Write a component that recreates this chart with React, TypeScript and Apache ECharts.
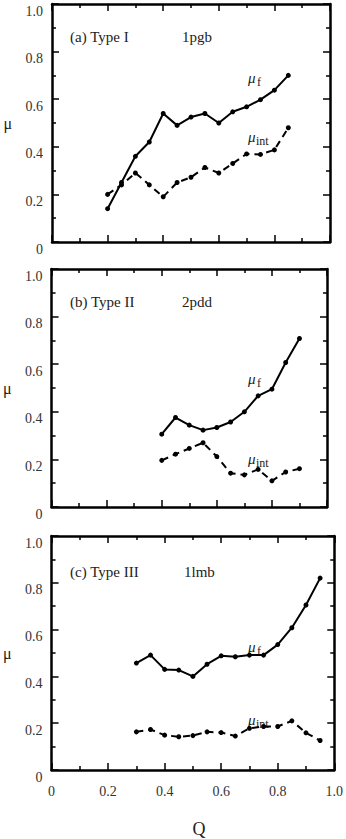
import React, { useEffect, useRef } from "react";
import * as echarts from "echarts";

// Panel (a) Type I, 1pgb
const qA = [0.2, 0.25, 0.3, 0.35, 0.4, 0.45, 0.5, 0.55, 0.6, 0.65, 0.7, 0.75, 0.8, 0.85];
const muFA = [0.14, 0.25, 0.36, 0.42, 0.54, 0.49, 0.525, 0.54, 0.5, 0.547, 0.568, 0.598, 0.638, 0.7];
const muIntA = [0.2, 0.24, 0.29, 0.24, 0.19, 0.25, 0.272, 0.313, 0.29, 0.33, 0.37, 0.368, 0.387, 0.48];

// Panel (b) Type II, 2pdd
const qB = [0.4, 0.45, 0.5, 0.55, 0.6, 0.65, 0.7, 0.75, 0.8, 0.85, 0.9];
const muFB = [0.306, 0.376, 0.344, 0.323, 0.334, 0.357, 0.4, 0.467, 0.495, 0.607, 0.708];
const muIntB = [0.196, 0.222, 0.246, 0.27, 0.212, 0.142, 0.135, 0.158, 0.11, 0.147, 0.161];

// Panel (c) Type III, 1lmb
const qC = [0.3, 0.35, 0.4, 0.45, 0.5, 0.55, 0.6, 0.65, 0.7, 0.75, 0.8, 0.85, 0.9, 0.95];
const muFC = [0.457, 0.491, 0.43, 0.427, 0.4, 0.452, 0.488, 0.484, 0.491, 0.491, 0.536, 0.608, 0.705, 0.82];
const muIntC = [0.163, 0.173, 0.149, 0.142, 0.147, 0.163, 0.16, 0.145, 0.178, 0.186, 0.186, 0.21, 0.159, 0.126];

const panelTitles = ["(a) Type I", "(b) Type II", "(c) Type III"];
const panelCodes = ["1pgb", "2pdd", "1lmb"];
const xTitle = "Q";
const yTitle = "μ";

const SERIF = "Liberation Serif";

const pair = (q: number[], v: number[]) => q.map((x, i) => [x, v[i]]);
const fmt = (v: number) => (v === 0 ? "0" : v.toFixed(1));

export default function App() {
  const ref = useRef<HTMLDivElement>(null);

  useEffect(() => {
    if (!ref.current) return;
    const chart = echarts.init(ref.current, undefined, { renderer: "svg" });

    const grids = [
      { left: 52, top: 4, width: 278, height: 238 },
      { left: 51, top: 269, width: 276, height: 238 },
      { left: 47, top: 536, width: 288, height: 246 },
    ];

    const tickStyle = { color: "#000", width: 1.5 };
    const lineAx = { show: true, onZero: false, lineStyle: { color: "#000", width: 2.5 } };

    const xAxes: any[] = [];
    const yAxes: any[] = [];
    grids.forEach((_, g) => {
      ["bottom", "top"].forEach((pos) => {
        const showLab = g === 2 && pos === "bottom";
        xAxes.push({
          type: "value",
          gridIndex: g,
          position: pos,
          min: 0,
          max: 1,
          interval: 0.2,
          axisLine: lineAx,
          axisTick: { show: true, inside: true, length: 7, lineStyle: tickStyle },
          minorTick: { show: true, splitNumber: 2, length: 4, lineStyle: tickStyle },
          splitLine: { show: false },
          axisLabel: {
            show: showLab,
            formatter: fmt,
            margin: 14,
            color: "#333",
            fontFamily: SERIF,
            fontSize: 14,
          },
          name: showLab ? xTitle : "",
          nameLocation: "middle",
          nameGap: 50,
          nameTextStyle: { fontFamily: SERIF, fontSize: 18, color: "#222", padding: [0, 0, 0, 12] },
        });
      });
      ["left", "right"].forEach((pos) => {
        const isLeft = pos === "left";
        yAxes.push({
          type: "value",
          gridIndex: g,
          position: pos,
          min: 0,
          max: 1,
          interval: 0.2,
          axisLine: lineAx,
          axisTick: { show: true, inside: true, length: 7, lineStyle: tickStyle },
          minorTick: { show: true, splitNumber: 2, length: 4, lineStyle: tickStyle },
          splitLine: { show: false },
          axisLabel: {
            show: isLeft,
            formatter: fmt,
            margin: 9,
            color: "#333",
            fontFamily: SERIF,
            fontSize: 14,
            verticalAlign: "top",
          },
          name: isLeft ? yTitle : "",
          nameLocation: "middle",
          nameRotate: 0,
          nameGap: 40,
          nameTextStyle: { fontFamily: SERIF, fontSize: 16, color: "#222" },
        });
      });
    });

    const mk = (g: number, q: number[], v: number[], dashed: boolean) => ({
      type: "line",
      xAxisIndex: g * 2,
      yAxisIndex: g * 2,
      data: pair(q, v),
      symbol: "circle",
      symbolSize: 5,
      showSymbol: true,
      itemStyle: { color: "#000" },
      lineStyle: { color: "#000", width: 2, type: dashed ? [7, 5] : "solid" },
      silent: true,
    });

    const series = [
      mk(0, qA, muFA, false),
      mk(0, qA, muIntA, true),
      mk(1, qB, muFB, false),
      mk(1, qB, muIntB, true),
      mk(2, qC, muFC, false),
      mk(2, qC, muIntC, true),
    ];

    const titleY = [37, 302, 572];
    const codeX = [182, 182, 184];
    const muFY = [78, 379, 647];
    const muIntY = [137, 459, 720];

    const graphic: any[] = [];
    for (let g = 0; g < 3; g++) {
      graphic.push({
        type: "text",
        x: 70,
        y: titleY[g],
        style: { text: panelTitles[g], fontFamily: SERIF, fontSize: 15, fill: "#222", verticalAlign: "middle" },
      });
      graphic.push({
        type: "text",
        x: codeX[g],
        y: titleY[g],
        style: { text: panelCodes[g], fontFamily: SERIF, fontSize: 15, fill: "#222", verticalAlign: "middle" },
      });
      graphic.push({
        type: "text",
        x: 248,
        y: muFY[g],
        style: { text: "μ", fontFamily: SERIF, fontSize: 15, fontStyle: "italic", fill: "#222", verticalAlign: "middle" },
      });
      graphic.push({
        type: "text",
        x: 257,
        y: muFY[g] + 4,
        style: { text: "f", fontFamily: SERIF, fontSize: 12, fill: "#222", verticalAlign: "middle" },
      });
      graphic.push({
        type: "text",
        x: 248,
        y: muIntY[g],
        style: { text: "μ", fontFamily: SERIF, fontSize: 15, fontStyle: "italic", fill: "#222", verticalAlign: "middle" },
      });
      graphic.push({
        type: "text",
        x: 256,
        y: muIntY[g] + 4,
        style: { text: "int", fontFamily: SERIF, fontSize: 12, fill: "#222", verticalAlign: "middle" },
      });
    }

    chart.setOption({
      animation: false,
      backgroundColor: "#fff",
      grid: grids,
      xAxis: xAxes,
      yAxis: yAxes,
      series,
      graphic,
    });

    return () => chart.dispose();
  }, []);

  return (
    <div
      ref={ref}
      style={{ position: "absolute", left: 0, top: 0, width: 346, height: 839, background: "#fff" }}
    />
  );
}
